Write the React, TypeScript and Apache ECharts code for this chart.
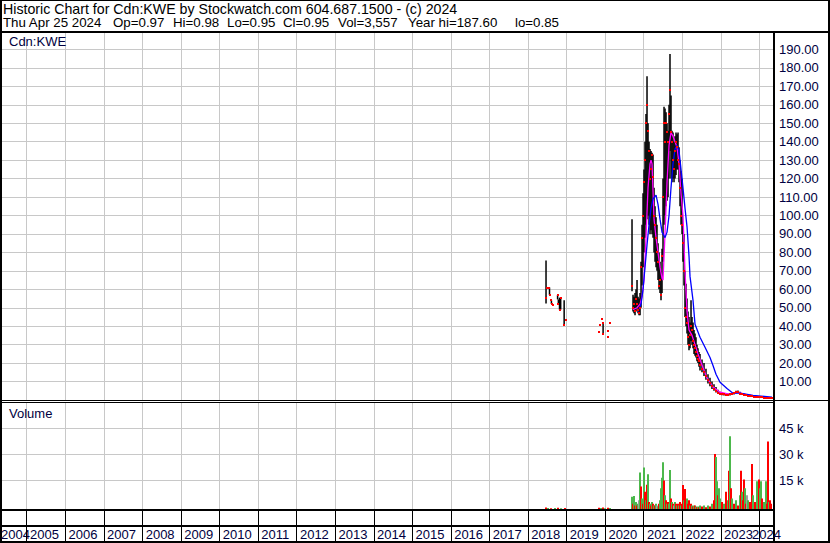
import React, { useEffect, useRef } from "react";
import * as echarts from "echarts";

const X_MIN = 2004.352;
const X_MAX = 2024.372;

const YEAR_LINES = [2005, 2006, 2007, 2008, 2009, 2010, 2011, 2012, 2013, 2014, 2015, 2016, 2017, 2018, 2019, 2020, 2021, 2022, 2023, 2024];
const YEAR_LABELS = [2004, 2005, 2006, 2007, 2008, 2009, 2010, 2011, 2012, 2013, 2014, 2015, 2016, 2017, 2018, 2019, 2020, 2021, 2022, 2023, 2024];

const HEADER_1 = "Historic Chart for Cdn:KWE by Stockwatch.com 604.687.1500 - (c) 2024";
const HEADER_2 = ["Thu Apr 25 2024", "Op=0.97", "Hi=0.98", "Lo=0.95", "Cl=0.95", "Vol=3,557", "Year hi=187.60", "lo=0.85"];
const HEADER_2_X = [3, 113, 173, 227, 283, 338, 408, 515];

// Price bars: date (decimal year), high, low, close
const PRICE_DATES = [
  2018.46, 2018.49, 2018.55, 2018.57, 2018.60, 2018.62, 2018.65, 2018.76, 2018.78, 2018.81, 2018.84, 2018.93, 2018.99,
  2019.83, 2019.86, 2019.90, 2019.93, 2019.94, 2020.06, 2020.08, 2020.13,
  2020.690, 2020.716, 2020.742, 2020.768, 2020.794, 2020.820, 2020.846, 2020.872, 2020.898, 2020.924,
  2020.950, 2020.976, 2021.001, 2021.027, 2021.053, 2021.079, 2021.105, 2021.131, 2021.157, 2021.183,
  2021.209, 2021.235, 2021.261, 2021.287, 2021.313, 2021.338, 2021.364, 2021.390, 2021.416, 2021.442,
  2021.468, 2021.494, 2021.520, 2021.546, 2021.572, 2021.598, 2021.624, 2021.650, 2021.675, 2021.701,
  2021.727, 2021.753, 2021.779, 2021.805, 2021.831, 2021.857, 2021.883, 2021.909, 2021.935, 2021.961,
  2021.987, 2022.012, 2022.038, 2022.064, 2022.090, 2022.116, 2022.142, 2022.168, 2022.194, 2022.220,
  2022.246, 2022.272, 2022.298, 2022.324, 2022.349, 2022.375, 2022.401, 2022.427, 2022.453,
  2022.505, 2022.557, 2022.608, 2022.660, 2022.712, 2022.764, 2022.816, 2022.868, 2022.920, 2022.972,
  2023.024, 2023.075, 2023.127, 2023.179, 2023.231, 2023.283, 2023.335, 2023.387, 2023.438, 2023.490,
  2023.542, 2023.594, 2023.646, 2023.698, 2023.750, 2023.802, 2023.853, 2023.905, 2023.957, 2024.009,
  2024.061, 2024.113, 2024.164, 2024.216, 2024.268, 2024.320,
];
const PRICE_HIGH = [
  75.6, 60.5, 61, 57, 54, 52.3, 51.7, 57, 54.5, 55.5, 55.5, 54, 43.4,
  37.1, 40.4, 43.8, 42, 42, 37.4, 34.2, 42,
  98, 57, 56, 58, 60, 65, 56, 55, 58, 75,
  95, 112, 125, 140, 155, 175.5, 150, 140, 136, 135,
  134, 133, 115, 105, 99, 95, 85, 80, 75, 70,
  82, 120, 159, 158, 156, 150, 146, 160, 187.6, 165,
  146, 145, 140, 143, 145, 144, 145, 137, 130, 124,
  120, 95, 90, 70, 63, 55, 48, 45, 42, 54,
  45, 42, 38, 36, 34, 30, 28, 26, 25,
  22, 20, 17, 14, 12, 10, 8.5, 7, 5.5, 4.5,
  4, 3.8, 3.6, 3.5, 3.4, 3.8, 4.2, 5, 5.2, 4.5,
  3.8, 3.5, 3.2, 3, 2.8, 2.6, 2.4, 2.2, 2, 1.9,
  1.8, 1.6, 1.4, 1.3, 1.2, 0.98,
];
const PRICE_LOW = [
  52.3, 60.5, 57, 57, 52, 52.3, 51.7, 54.5, 52.3, 49, 49, 40.4, 43.4,
  37.1, 40.4, 43.8, 42, 35.8, 37.4, 34.2, 42,
  59, 48, 47, 46, 48, 50, 47, 46, 46, 50,
  62, 72, 80, 88, 95, 98, 100, 95, 90, 92,
  90, 88, 80, 75, 72, 70, 65, 60, 58, 54,
  58, 75, 95, 100, 105, 108, 110, 120, 135, 120,
  118, 120, 118, 120, 122, 125, 125, 118, 105, 95,
  90, 75, 62, 45, 40, 36, 30, 27, 28, 32,
  30, 28, 25, 24, 23, 21, 20, 18, 16,
  15, 13, 11, 9, 7.5, 6, 5, 4, 3.2, 2.8,
  2.6, 2.5, 2.5, 2.4, 2.5, 2.8, 3, 3.5, 3.6, 3.2,
  2.8, 2.5, 2.2, 2, 1.8, 1.6, 1.5, 1.4, 1.3, 1.2,
  1.1, 1, 0.95, 0.9, 0.85, 0.95,
];
const PRICE_CLOSE = [
  55.2, 60.5, 60.5, 57, 54, 52.3, 51.7, 57, 52.3, 49, 55.5, 40.4, 43.4,
  37.1, 40.4, 43.8, 42, 35.8, 37.4, 34.2, 42,
  62, 50, 52, 48, 55, 52, 49, 47, 50, 72,
  88, 100, 118, 130, 150, 160, 146, 135, 120, 125,
  133, 121, 100, 95, 88, 80, 75, 62, 65, 57,
  78, 110, 150, 140, 150, 145, 140, 155, 168, 145,
  140, 130, 125, 135, 140, 137, 130, 128, 115, 100,
  95, 85, 70, 50, 45, 42, 34, 30, 35, 40,
  38, 32, 30, 28, 26, 24, 22, 21, 19,
  17, 15, 13, 11, 9, 7.5, 6, 5, 4, 3.5,
  3, 3, 2.8, 2.8, 3, 3.2, 3.8, 4.5, 4.2, 3.5,
  3.2, 2.8, 2.6, 2.4, 2.2, 2, 1.8, 1.7, 1.6, 1.5,
  1.4, 1.3, 1.1, 1.05, 1, 0.95,
];

// Short moving average (magenta)
const MA_FAST_DATES = [
  2020.716, 2020.820, 2020.898, 2020.950, 2021.001, 2021.053, 2021.105, 2021.157, 2021.183, 2021.209,
  2021.261, 2021.313, 2021.364, 2021.416, 2021.468, 2021.494, 2021.546, 2021.598, 2021.650, 2021.701,
  2021.753, 2021.805, 2021.857, 2021.909, 2021.961, 2022.012, 2022.064, 2022.116, 2022.168, 2022.246,
  2022.324, 2022.401, 2022.505, 2022.634, 2022.790, 2022.972, 2023.231, 2023.438, 2023.672, 2024.009,
  2024.320,
];
const MA_FAST = [
  49, 50, 52, 56, 65, 88, 115, 128, 130, 128,
  98, 88, 80, 72, 66, 65, 90, 118, 138, 145,
  143, 140, 137, 128, 112, 100, 70, 48, 38, 35,
  30, 25, 19, 12, 7, 4.2, 3, 4.2, 2.8, 1.7,
  1.0,
];

// Long moving average (blue)
const MA_SLOW_DATES = [
  2020.846, 2020.924, 2020.976, 2021.027, 2021.079, 2021.131, 2021.183, 2021.235, 2021.313, 2021.364,
  2021.416, 2021.468, 2021.546, 2021.598, 2021.650, 2021.701, 2021.753, 2021.805, 2021.857, 2021.909,
  2021.961, 2022.012, 2022.064, 2022.116, 2022.168, 2022.194, 2022.272, 2022.324, 2022.453, 2022.583,
  2022.712, 2022.790, 2022.868, 2022.972, 2023.153, 2023.309, 2023.490, 2023.828, 2024.320,
];
const MA_SLOW = [
  48, 52, 60, 72, 84, 95, 104, 109, 111, 106,
  98, 91, 88, 91, 100, 115, 128, 136, 138, 135,
  125, 115, 104, 94, 78, 67, 54, 41, 34, 28.6,
  23, 18.7, 14, 9.6, 6.2, 3.7, 3.7, 2.5, 1.5,
];

// Volume: date, thousands of shares, direction (g up, r down, n unchanged)
const VOL_DATES = [
  2018.46, 2018.52, 2018.60, 2018.70, 2018.78, 2018.86, 2018.95,
  2019.83, 2019.88, 2019.93, 2020.00, 2020.07, 2020.12,
  2020.690, 2020.716, 2020.742, 2020.768, 2020.794, 2020.820, 2020.846, 2020.872, 2020.898, 2020.924,
  2020.950, 2020.976, 2021.001, 2021.027, 2021.053, 2021.079, 2021.105, 2021.131, 2021.157, 2021.183,
  2021.209, 2021.235, 2021.261, 2021.287, 2021.313, 2021.338, 2021.364, 2021.390, 2021.416, 2021.442,
  2021.468, 2021.494, 2021.520, 2021.546, 2021.572, 2021.598, 2021.624, 2021.650, 2021.675, 2021.701,
  2021.727, 2021.753, 2021.779, 2021.805, 2021.831, 2021.857, 2021.883, 2021.909, 2021.935, 2021.961,
  2021.987, 2022.012, 2022.038, 2022.064, 2022.090, 2022.116, 2022.142, 2022.168, 2022.194, 2022.220,
  2022.246, 2022.272, 2022.298, 2022.324, 2022.349, 2022.375, 2022.401, 2022.427, 2022.453,
  2022.505, 2022.557, 2022.608, 2022.660, 2022.712, 2022.764, 2022.816, 2022.842, 2022.868, 2022.894,
  2022.920, 2022.946, 2022.972, 2023.024, 2023.075, 2023.127, 2023.179, 2023.205, 2023.231, 2023.257,
  2023.283, 2023.335, 2023.387, 2023.438, 2023.490, 2023.516, 2023.542, 2023.568, 2023.594, 2023.620,
  2023.646, 2023.672, 2023.698, 2023.750, 2023.802, 2023.828, 2023.880, 2023.931, 2023.957, 2023.983,
  2024.009, 2024.035, 2024.061, 2024.113, 2024.164, 2024.190, 2024.216, 2024.242, 2024.268, 2024.294,
];
const VOL_K = [
  0.8, 0.6, 0.5, 0.6, 0.7, 0.5, 0.6,
  0.7, 0.6, 0.8, 0.5, 0.7, 0.6,
  7, 3, 7.5, 2, 4, 2, 3, 5, 21, 13,
  6, 3, 24, 10, 5, 14, 20, 4, 3, 2,
  4, 3, 2, 2, 3, 2, 1.5, 3, 5, 12,
  18, 27, 16.5, 8, 5, 3, 4, 3, 22.5, 6,
  4, 3, 2, 4, 3, 2, 3, 2, 4, 2,
  3, 13.8, 5, 11.5, 4, 6, 3, 5, 2, 3,
  2, 1.5, 2, 2, 1.5, 1, 1.5, 1, 2,
  1.5, 2, 1, 2, 1.5, 3, 5, 31.7, 30, 16,
  8, 12, 6, 4, 3, 10, 5, 22, 42, 12,
  6, 3, 5, 2, 8, 22, 10, 5, 17, 12,
  3, 8, 5, 4, 26, 8, 4, 16, 14, 17,
  12, 16, 6, 4, 16, 3, 39, 4, 5, 3,
];
const VOL_DIR = [
  "r", "g", "r", "g", "r", "g", "r",
  "r", "g", "r", "g", "r", "g",
  "g", "r", "g", "r", "g", "r", "g", "n", "g", "r",
  "g", "r", "g", "r", "g", "r", "g", "r", "g", "r",
  "g", "r", "g", "r", "g", "n", "g", "r", "g", "g",
  "g", "g", "r", "g", "r", "g", "r", "g", "g", "r",
  "g", "r", "n", "g", "r", "g", "r", "g", "r", "g",
  "r", "r", "g", "r", "r", "g", "r", "r", "g", "r",
  "g", "r", "g", "r", "g", "r", "g", "r", "g",
  "r", "g", "r", "g", "r", "g", "r", "r", "g", "g",
  "r", "g", "g", "r", "g", "r", "g", "r", "g", "r",
  "g", "r", "g", "r", "g", "r", "g", "r", "r", "g",
  "r", "n", "g", "r", "r", "g", "r", "g", "g", "r",
  "g", "g", "r", "g", "g", "r", "r", "g", "r", "r",
];

const FONT = "'Liberation Sans', Arial, sans-serif";
const LABEL_COLOR = "#000040";
const GRID_COLOR = "#c8c8c8";
const VOL_COLORS: Record<string, string> = { g: "#4cb84c", r: "#ff0000", n: "#a0a0a0" };

function buildOption() {
  const priceData = PRICE_DATES.map((d, i) => [d, PRICE_HIGH[i], PRICE_LOW[i], PRICE_CLOSE[i]]);
  const volData = VOL_DATES.map((d, i) => [d, VOL_K[i] * 1000, i]);
  const snap = (v: number) => Math.round(v) + 0.5;

  const yearGridSeries = (gi: number) => ({
    type: "custom",
    xAxisIndex: gi,
    yAxisIndex: gi,
    z: 1,
    silent: true,
    data: YEAR_LINES.map((y) => [y, 0]),
    renderItem: (params: any, api: any) => {
      const cs = params.coordSys;
      const x = snap(api.coord([api.value(0), api.value(1)])[0] - 0.5);
      return {
        type: "line",
        shape: { x1: x, y1: cs.y, x2: x, y2: cs.y + cs.height },
        style: { stroke: GRID_COLOR, lineWidth: 1 },
      };
    },
  });

  const blk = (x: number, y: number, w: number, h: number) => ({
    type: "rect",
    z: 100,
    silent: true,
    shape: { x, y, width: w, height: h },
    style: { fill: "#000" },
  });

  return {
    animation: false,
    backgroundColor: "#ffffff",
    textStyle: { fontFamily: FONT },
    grid: [
      { left: 2, right: 56, top: 31, height: 369 },
      { left: 2, right: 56, top: 402, height: 78 },
      { left: 2, right: 56, top: 403, height: 106 },
      { left: 2, right: 56, top: 509, height: 33 },
    ],
    xAxis: [0, 1, 2, 3].map((i) => ({ type: "value", gridIndex: i, min: X_MIN, max: X_MAX, show: false })),
    yAxis: [
      {
        type: "value",
        gridIndex: 0,
        min: 0,
        max: 200,
        interval: 10,
        position: "right",
        axisLine: { show: false },
        axisTick: { show: false },
        splitLine: { show: true, lineStyle: { color: GRID_COLOR, width: 1 } },
        axisLabel: {
          margin: 5,
          color: LABEL_COLOR,
          fontSize: 13,
          fontFamily: FONT,
          formatter: (v: number) => (v > 0 && v < 200 ? v.toFixed(2) : ""),
        },
      },
      {
        type: "value",
        gridIndex: 1,
        min: 15000,
        max: 60000,
        interval: 15000,
        position: "right",
        axisLine: { show: false },
        axisTick: { show: false },
        splitLine: { show: true, lineStyle: { color: GRID_COLOR, width: 1 } },
        axisLabel: {
          margin: 5,
          color: LABEL_COLOR,
          fontSize: 13,
          fontFamily: FONT,
          formatter: (v: number) => (v < 60000 ? v / 1000 + " k" : ""),
        },
      },
      { type: "value", gridIndex: 2, min: 0, max: 61150, show: false },
      { type: "value", gridIndex: 3, min: 0, max: 1, show: false },
    ],
    series: [
      yearGridSeries(0),
      yearGridSeries(2),
      {
        type: "custom",
        name: "range",
        xAxisIndex: 0,
        yAxisIndex: 0,
        z: 2,
        silent: true,
        data: priceData,
        renderItem: (params: any, api: any) => {
          const d = api.value(0);
          const pH = api.coord([d, api.value(1)]);
          const pL = api.coord([d, api.value(2)]);
          if (pL[1] - pH[1] < 0.8) return { type: "group", children: [] };
          return {
            type: "line",
            shape: { x1: pH[0], y1: pH[1], x2: pL[0], y2: pL[1] },
            style: { stroke: "#000000", lineWidth: 1.5 },
          };
        },
      },
      {
        type: "line",
        name: "fast",
        xAxisIndex: 0,
        yAxisIndex: 0,
        z: 3,
        silent: true,
        showSymbol: false,
        data: MA_FAST_DATES.map((d, i) => [d, MA_FAST[i]]),
        lineStyle: { color: "#ff00ff", width: 1.3 },
      },
      {
        type: "line",
        name: "slow",
        xAxisIndex: 0,
        yAxisIndex: 0,
        z: 3,
        silent: true,
        showSymbol: false,
        data: MA_SLOW_DATES.map((d, i) => [d, MA_SLOW[i]]),
        lineStyle: { color: "#0000ff", width: 1.3 },
      },
      {
        type: "custom",
        name: "close",
        xAxisIndex: 0,
        yAxisIndex: 0,
        z: 4,
        silent: true,
        data: priceData,
        renderItem: (params: any, api: any) => {
          const p = api.coord([api.value(0), api.value(3)]);
          return {
            type: "rect",
            shape: { x: Math.round(p[0]) - 1, y: Math.round(p[1]) - 1, width: 2, height: 2 },
            style: { fill: "#ff0000" },
          };
        },
      },
      {
        type: "custom",
        name: "volume",
        xAxisIndex: 2,
        yAxisIndex: 2,
        z: 2,
        silent: true,
        data: volData,
        renderItem: (params: any, api: any) => {
          const d = api.value(0);
          const top = api.coord([d, api.value(1)]);
          const base = api.coord([d, 0]);
          const dir = VOL_DIR[api.value(2)];
          const x = Math.round(top[0]) - 1;
          return {
            type: "rect",
            shape: { x, y: top[1], width: 2, height: base[1] - top[1] },
            style: { fill: VOL_COLORS[dir] },
          };
        },
      },
      {
        type: "custom",
        name: "years",
        xAxisIndex: 3,
        yAxisIndex: 3,
        z: 110,
        silent: true,
        clip: false,
        data: YEAR_LABELS.map((y) => [y, 0]),
        renderItem: (params: any, api: any) => {
          const yr = api.value(0);
          const x0 = api.coord([yr, 0])[0];
          const children: any[] = [];
          children.push({
            type: "text",
            x: Math.min(Math.max(x0 + 3, 1), 752),
            y: 534,
            style: {
              text: String(yr),
              fill: LABEL_COLOR,
              fontSize: 13,
              fontFamily: FONT,
              align: "left",
              verticalAlign: "middle",
            },
          });
          if (yr >= 2005) {
            const lx = snap(x0 - 0.5);
            children.push({
              type: "line",
              shape: { x1: lx, y1: 509, x2: lx, y2: 542 },
              style: { stroke: "#000", lineWidth: 1 },
            });
          }
          return { type: "group", children };
        },
      },
    ],
    graphic: [
      { type: "rect", z: 99, silent: true, shape: { x: 3, y: 33, width: 61, height: 12 }, style: { fill: "#fff" } },
      {
        type: "text",
        z: 100,
        silent: true,
        x: 9,
        y: 41,
        style: { text: "Cdn:KWE", fill: LABEL_COLOR, fontSize: 13, fontFamily: FONT, verticalAlign: "middle" },
      },
      {
        type: "text",
        z: 100,
        silent: true,
        x: 9,
        y: 413,
        style: { text: "Volume", fill: LABEL_COLOR, fontSize: 13, fontFamily: FONT, verticalAlign: "middle" },
      },
      {
        type: "text",
        z: 100,
        silent: true,
        x: 3,
        y: 8.5,
        style: { text: HEADER_1, fill: "#000", fontSize: 14.2, fontFamily: FONT, verticalAlign: "middle" },
      },
      ...HEADER_2.map((t, i) => ({
        type: "text",
        z: 100,
        silent: true,
        x: HEADER_2_X[i],
        y: 22.5,
        style: { text: t, fill: "#000", fontSize: 13.3, fontFamily: FONT, verticalAlign: "middle" },
      })),
      blk(0, 0, 830, 1),
      blk(0, 0, 2, 543),
      blk(828, 0, 2, 543),
      blk(0, 541, 830, 2),
      blk(0, 31, 830, 2),
      blk(773, 31, 2, 512),
      blk(0, 400, 830, 1),
      blk(0, 402, 774, 1),
      blk(0, 509, 774, 2),
      blk(0, 525, 774, 2),
    ],
  };
}

export default function App() {
  const ref = useRef<HTMLDivElement>(null);
  useEffect(() => {
    if (!ref.current) return;
    const chart = echarts.init(ref.current, null, { renderer: "svg" });
    chart.setOption(buildOption() as any);
    return () => chart.dispose();
  }, []);
  return (
    <div
      ref={ref}
      style={{ position: "fixed", left: 0, top: 0, width: 830, height: 543, background: "#fff" }}
    />
  );
}
